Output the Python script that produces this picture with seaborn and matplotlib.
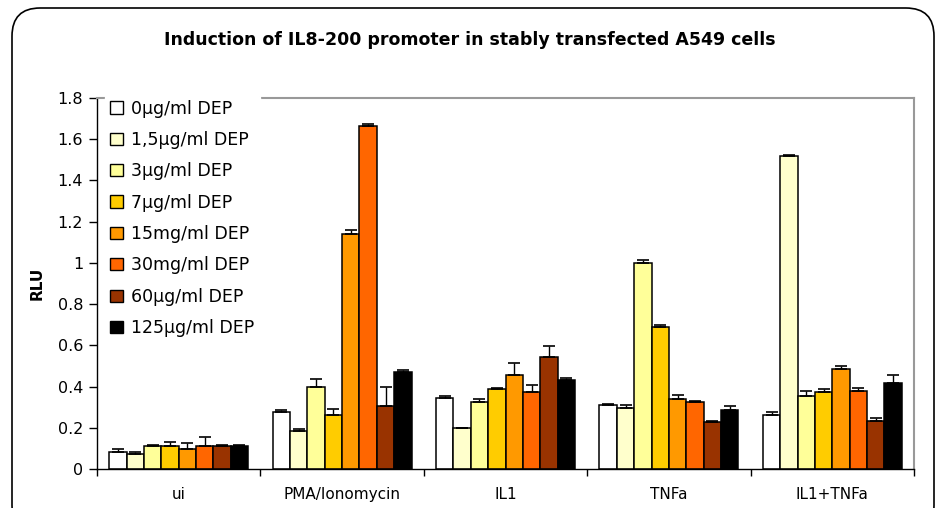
import numpy as np
import pandas as pd
import seaborn as sns
import matplotlib.pyplot as plt
from matplotlib.patches import FancyBboxPatch

# treatments on the x axis
treatments = ["ui", "PMA/Ionomycin", "IL1", "TNFa", "IL1+TNFa"]

# DEP doses (legend)
doses = ["0µg/ml DEP", "1,5µg/ml DEP", "3µg/ml DEP", "7µg/ml DEP",
         "15mg/ml DEP", "30mg/ml DEP", "60µg/ml DEP", "125µg/ml DEP"]

# mean RLU per dose, one value per treatment
rlu_0 = [0.081, 0.278, 0.346, 0.311, 0.264]
rlu_1_5 = [0.073, 0.186, 0.200, 0.298, 1.517]
rlu_3 = [0.110, 0.396, 0.325, 1.001, 0.353]
rlu_7 = [0.110, 0.262, 0.388, 0.688, 0.372]
rlu_15 = [0.096, 1.140, 0.458, 0.338, 0.487]
rlu_30 = [0.110, 1.664, 0.372, 0.325, 0.380]
rlu_60 = [0.110, 0.306, 0.542, 0.228, 0.233]
rlu_125 = [0.110, 0.472, 0.432, 0.285, 0.417]

# upper error bars
err_0 = [0.015, 0.007, 0.008, 0.002, 0.014]
err_1_5 = [0.011, 0.007, 0.000, 0.013, 0.008]
err_3 = [0.006, 0.042, 0.015, 0.015, 0.027]
err_7 = [0.022, 0.029, 0.006, 0.013, 0.016]
err_15 = [0.029, 0.021, 0.058, 0.023, 0.013]
err_30 = [0.044, 0.011, 0.037, 0.006, 0.015]
err_60 = [0.006, 0.091, 0.057, 0.006, 0.016]
err_125 = [0.006, 0.007, 0.011, 0.021, 0.041]

means = [rlu_0, rlu_1_5, rlu_3, rlu_7, rlu_15, rlu_30, rlu_60, rlu_125]
errs = [err_0, err_1_5, err_3, err_7, err_15, err_30, err_60, err_125]

colors = ["#FFFFFF", "#FFFFCC", "#FFFF99", "#FFCC00",
          "#FF9900", "#FF6600", "#993300", "#000000"]

rows = []
for d, m in zip(doses, means):
    for t, v in zip(treatments, m):
        rows.append({"Treatment": t, "Dose": d, "RLU": v})
df = pd.DataFrame(rows)

sns.set_style("white")
plt.rcParams['font.family'] = ['DejaVu Sans']
plt.rcParams['text.color'] = 'black'
plt.rcParams['axes.labelcolor'] = 'black'
plt.rcParams['xtick.color'] = 'black'
plt.rcParams['ytick.color'] = 'black'

fig = plt.figure(figsize=(9.39, 5.08), dpi=100)
ax = fig.add_axes([0.1033, 0.0768, 0.8701, 0.7302])

sns.barplot(data=df, x="Treatment", y="RLU", hue="Dose", order=treatments,
            hue_order=doses, palette=colors, width=0.85, errorbar=None,
            edgecolor="black", linewidth=1.1, saturation=1, ax=ax)

# positive error bars only
for cont, e in zip(ax.containers, errs):
    xs = [p.get_x() + p.get_width() / 2 for p in cont]
    hs = [p.get_height() for p in cont]
    ax.errorbar(xs, hs, yerr=[np.zeros(len(e)), e], fmt="none",
                ecolor="black", elinewidth=1, capsize=4.5, capthick=1.2, zorder=3)

ax.set_ylim(0, 1.8)
ax.set_xlim(-0.5, len(treatments) - 0.5)
ax.set_yticks(np.arange(0, 1.81, 0.2))
ax.set_yticklabels(["0", "0.2", "0.4", "0.6", "0.8", "1", "1.2", "1.4", "1.6", "1.8"],
                   fontsize=11.5)
ax.set_xticks(range(len(treatments)))
ax.set_xticklabels(treatments, fontsize=11)
ax.tick_params(axis="x", which="major", length=0, pad=13)
ax.set_xticks(np.arange(-0.5, len(treatments), 1), minor=True)
ax.tick_params(axis="x", which="minor", length=5, width=1, direction="out",
               bottom=True, color="black")
ax.tick_params(axis="y", length=6, width=1, direction="out", left=True,
               color="black", pad=4)

ax.set_xlabel("")
ax.set_ylabel("RLU", fontsize=11, fontweight="bold", labelpad=9)

for s in ["left", "bottom"]:
    ax.spines[s].set_color("black")
    ax.spines[s].set_linewidth(1)
for s in ["top", "right"]:
    ax.spines[s].set_color("#999999")
    ax.spines[s].set_linewidth(1.5)

leg = ax.legend(loc="upper left", bbox_to_anchor=(0.01, 1.01), frameon=True,
                fontsize=12.5, handlelength=0.7, handleheight=0.7,
                labelspacing=0.77, handletextpad=0.5, borderpad=0.3,
                borderaxespad=0.0)
leg.get_frame().set_edgecolor("white")
leg.get_frame().set_facecolor("white")
leg.get_frame().set_alpha(1)
for h in leg.legend_handles:
    h.set_edgecolor("black")
    h.set_linewidth(1)

fig.text(0.5, 0.921, "Induction of IL8-200 promoter in stably transfected A549 cells",
         ha="center", va="center", fontsize=12.5, fontweight="bold")

# rounded chart border
frame = FancyBboxPatch((12 / 939, -0.05), 922 / 939, 1 - 8 / 508 + 0.05,
                       boxstyle="round,pad=0,rounding_size=0.03",
                       transform=fig.transFigure, fill=False,
                       edgecolor="black", linewidth=1.2, mutation_aspect=939 / 508)
fig.patches.append(frame)

fig.savefig("out.png", dpi=100)
